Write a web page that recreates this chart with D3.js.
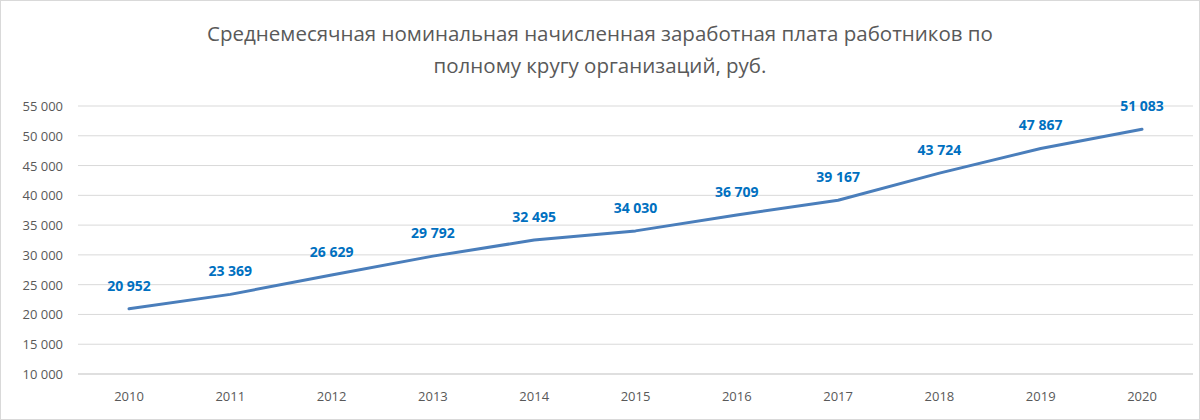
<!DOCTYPE html>
<html><head><meta charset="utf-8">
<script src="https://cdn.jsdelivr.net/npm/d3@7"></script>
<style>body{margin:0;background:#fff}svg{display:block}</style>
</head><body><div id="chart-area"></div>
<script>
const years = ["2010","2011","2012","2013","2014","2015","2016","2017","2018","2019","2020"]
const salary = [20952, 23369, 26629, 29792, 32495, 34030, 36709, 39167, 43724, 47867, 51083]
const yTicks = [10000,15000,20000,25000,30000,35000,40000,45000,50000,55000]
const titleLines = ["Среднемесячная номинальная начисленная заработная плата работников по", "полному кругу организаций, руб."]

const fmt = v => d3.format(",")(v).replace(/,/g, "\u00a0")

let svg = d3.select("#chart-area").append("svg")
	.attr("width", 1200)
	.attr("height", 420)
	.style("font-family", "'Open Sans', 'Noto Sans', sans-serif")

svg.append("rect").attr("x", 0.5).attr("y", 0.5).attr("width", 1199).attr("height", 419)
	.attr("fill", "#fff").attr("stroke", "#d9d9d9")

svg.selectAll(".title").data(titleLines).enter().append("text")
	.attr("x", 600).attr("y", (d, i) => 41 + i * 32)
	.attr("text-anchor", "middle").attr("font-size", 20.5).attr("fill", "#595959")
	.text(d => d)

let x = d3.scalePoint().domain(years).range([129, 1142])
let y = d3.scaleLinear().domain([10000, 55000]).range([374, 106])

svg.append("g").selectAll("line").data(yTicks).enter().append("line")
	.attr("x1", 78).attr("x2", 1193).attr("y1", d => y(d)).attr("y2", d => y(d))
	.attr("stroke", d => d === 10000 ? "#bfbfbf" : "#d9d9d9").attr("stroke-width", 1)

svg.append("g").selectAll("text").data(yTicks).enter().append("text")
	.attr("x", 63).attr("y", d => y(d) + 5).attr("text-anchor", "end")
	.attr("font-size", 13).attr("fill", "#595959").text(fmt)

svg.append("g").selectAll("text").data(years).enter().append("text")
	.attr("x", d => x(d)).attr("y", 401).attr("text-anchor", "middle")
	.attr("font-size", 13).attr("fill", "#595959").text(d => d)

let line = d3.line().x((d, i) => x(years[i])).y(d => y(d))
svg.append("path").datum(salary).attr("d", line)
	.attr("fill", "none").attr("stroke", "#4a7ebb").attr("stroke-width", 3)
	.attr("stroke-linejoin", "round").attr("stroke-linecap", "round")

svg.append("g").selectAll("text").data(salary).enter().append("text")
	.attr("x", (d, i) => x(years[i])).attr("y", d => y(d) - 18)
	.attr("text-anchor", "middle").attr("font-size", 14).attr("font-weight", "bold")
	.attr("fill", "#0070c0").text(fmt)
</script></body></html>
